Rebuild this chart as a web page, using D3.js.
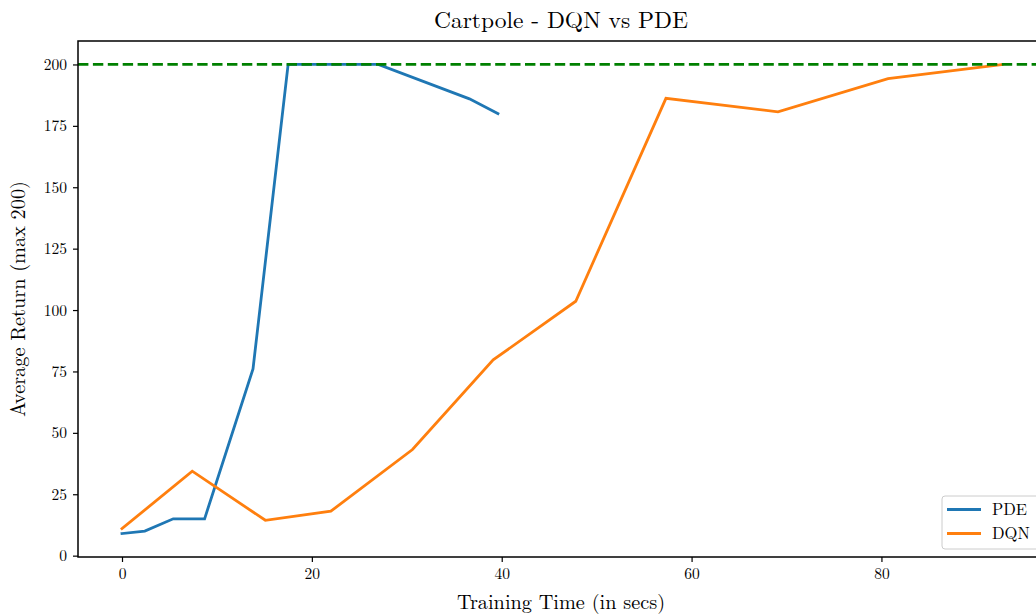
<!DOCTYPE html>
<html>
<head>
<meta charset="utf-8">
<script src="https://cdn.jsdelivr.net/npm/d3@7"></script>
<style>
  html, body { margin: 0; padding: 0; background: #fff; }
  svg { display: block; }
  text { font-family: "Latin Modern Roman", "CMU Serif", "Liberation Serif", "DejaVu Serif", serif; fill: #000; }
</style>
</head>
<body>
<svg id="chart"></svg>
<script>
// PDE run
const pdeTime = [0, 2.4, 5.4, 8.7, 13.8, 17.5, 27.0, 36.6, 39.6];
const pdeReturn = [9, 10, 15, 15, 76, 200, 200, 186, 180];

// DQN run
const dqnTime = [0, 7.4, 15.1, 22.0, 30.6, 39.1, 47.8, 57.3, 69.1, 80.7, 92.7];
const dqnReturn = [11, 34.4, 14.4, 18.1, 43.2, 79.7, 103.6, 186.2, 180.7, 194.2, 200];

const maxReturn = 200;
const xTicks = [0, 20, 40, 60, 80];
const yTicks = [0, 25, 50, 75, 100, 125, 150, 175, 200];

const width = 1036, height = 615;
const plotL = 78, plotR = 1046, plotT = 41, plotB = 557;

const svg = d3.select("#chart").attr("width", width).attr("height", height);

const x = d3.scaleLinear().domain([-4.635, 97.335]).range([plotL, plotR]);
const y = d3.scaleLinear().domain([-0.55, 209.55]).range([plotB, plotT]);

const series = [
    { name: "PDE", color: "#1f77b4", pts: pdeTime.map((t, i) => [t, pdeReturn[i]]) },
    { name: "DQN", color: "#ff7f0e", pts: dqnTime.map((t, i) => [t, dqnReturn[i]]) }
];

const line = d3.line().x(d => x(d[0])).y(d => y(d[1]));

const plot = svg.append("g");

// Lines
plot.selectAll("path.series")
    .data(series)
    .enter().append("path")
    .attr("class", "series")
    .attr("d", d => line(d.pts))
    .attr("fill", "none")
    .attr("stroke", d => d.color)
    .attr("stroke-width", 2.8)
    .attr("stroke-linejoin", "miter")
    .attr("stroke-linecap", "square");

// max return line
plot.append("line")
    .attr("x1", plotL).attr("x2", plotR)
    .attr("y1", y(maxReturn)).attr("y2", y(maxReturn))
    .attr("stroke", "#008000")
    .attr("stroke-width", 2.8)
    .attr("stroke-dasharray", "10.4,4.5");

// Axes
const xAxis = svg.append("g")
    .attr("transform", `translate(0,${plotB})`)
    .call(d3.axisBottom(x).tickValues(xTicks).tickSize(5).tickPadding(6).tickFormat(d3.format("d")));
const yAxis = svg.append("g")
    .attr("transform", `translate(${plotL},0)`)
    .call(d3.axisLeft(y).tickValues(yTicks).tickSize(5).tickPadding(6).tickFormat(d3.format("d")));

[xAxis, yAxis].forEach(a => {
    a.select(".domain").remove();
    a.selectAll(".tick line").attr("stroke", "#000").attr("stroke-width", 1.2);
    a.selectAll(".tick text").attr("font-size", 15.5).attr("font-family", null);
});

// Spines
svg.append("rect")
    .attr("x", plotL).attr("y", plotT)
    .attr("width", plotR - plotL).attr("height", plotB - plotT)
    .attr("fill", "none")
    .attr("stroke", "#000")
    .attr("stroke-width", 1.5);

// Titles
svg.append("text")
    .attr("x", 561).attr("y", 28)
    .attr("text-anchor", "middle")
    .attr("font-size", 23.5)
    .text("Cartpole - DQN vs PDE");

svg.append("text")
    .attr("x", 561).attr("y", 609)
    .attr("text-anchor", "middle")
    .attr("font-size", 20.3)
    .text("Training Time (in secs)");

svg.append("text")
    .attr("transform", `translate(25,${(plotT + plotB) / 2}) rotate(-90)`)
    .attr("text-anchor", "middle")
    .attr("font-size", 20.3)
    .text("Average Return (max 200)");

// Legend
const legend = svg.append("g").attr("transform", "translate(942,496)");
legend.append("rect")
    .attr("width", 110).attr("height", 53)
    .attr("rx", 3)
    .attr("fill", "#fff").attr("fill-opacity", 0.8)
    .attr("stroke", "#cccccc").attr("stroke-width", 1);

const item = legend.selectAll("g.item")
    .data(series)
    .enter().append("g")
    .attr("class", "item")
    .attr("transform", (d, i) => `translate(0,${13.5 + i * 24})`);
item.append("line")
    .attr("x1", 5).attr("x2", 39)
    .attr("stroke", d => d.color)
    .attr("stroke-width", 2.8);
item.append("text")
    .attr("x", 50).attr("y", 5.5)
    .attr("font-size", 16.5)
    .text(d => d.name);
</script>
</body>
</html>
